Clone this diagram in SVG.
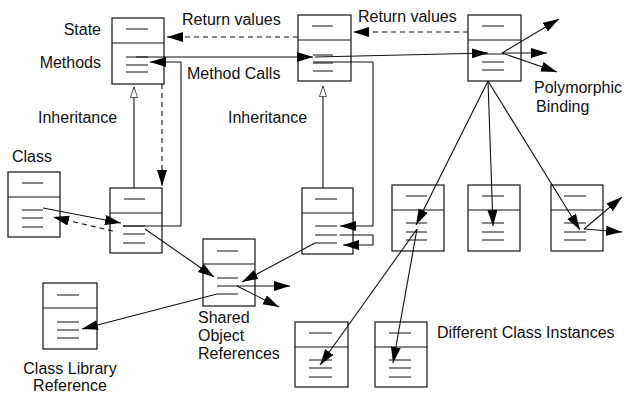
<svg xmlns="http://www.w3.org/2000/svg" width="624" height="394" viewBox="0 0 624 394">
<style>
.box{fill:#fff;stroke:#111;stroke-width:1.2}
.ln{stroke:#111;stroke-width:1;fill:none}
.c{stroke:#111;stroke-width:1.1;fill:none;marker-end:url(#ah)}
.d{stroke:#111;stroke-width:1.1;fill:none;stroke-dasharray:5 4;marker-end:url(#ah)}
.i{stroke:#111;stroke-width:1.1;fill:none;marker-end:url(#tri)}
text{font-family:"Liberation Sans",Arial,Helvetica,sans-serif;font-size:16px;fill:#111}
</style>
<defs>
<marker id="ah" markerUnits="userSpaceOnUse" markerWidth="17" markerHeight="11" refX="16" refY="5" orient="auto" viewBox="0 0 17 11">
<path d="M0,0 L16,5 L0,10 z" fill="#000"/>
</marker>
<marker id="tri" markerUnits="userSpaceOnUse" markerWidth="12" markerHeight="18" refX="15" refY="5" orient="auto" viewBox="-1 -1 17 12">
<path d="M0,0 L15,5 L0,10 z" fill="#fff" stroke="#111" stroke-width="1"/>
</marker>
</defs>

<g id="box1">
<rect class="box" x="112" y="18" width="52" height="66"/>
<path class="ln" d="M112,43 H164 M126,29 H148 M126,57 H148 M126,65 H148 M126,72 H148"/>
</g>
<g id="box2">
<rect class="box" x="298" y="15" width="53" height="66"/>
<path class="ln" d="M298,40 H351 M312,26 H333 M313,55 H333 M313,63 H333 M313,71 H333"/>
</g>
<g id="box3">
<rect class="box" x="468" y="15" width="53" height="66"/>
<path class="ln" d="M468,40 H521 M482,26 H504 M482,54 H504 M482,62 H504 M482,70 H504"/>
</g>
<g id="box4">
<rect class="box" x="110" y="188" width="52" height="65"/>
<path class="ln" d="M110,213 H162 M124,199 H145 M123,226 H145 M123,234 H145 M123,243 H145"/>
</g>
<g id="box5">
<rect class="box" x="302" y="188" width="51" height="66"/>
<path class="ln" d="M302,213 H353 M315,199 H337 M315,226 H337 M315,235 H337 M315,243 H337"/>
</g>
<g id="class">
<rect class="box" x="8" y="172" width="52" height="65"/>
<path class="ln" d="M8,197 H60 M22,183 H43 M22,210 H43 M22,218 H43 M22,227 H43"/>
</g>
<g id="shared">
<rect class="box" x="203" y="239" width="52" height="67"/>
<path class="ln" d="M203,264 H255 M217,251 H238 M217,278 H238 M217,286 H238 M217,294 H238"/>
</g>
<g id="box7">
<rect class="box" x="392" y="185" width="52" height="66"/>
<path class="ln" d="M392,210 H444 M406,196 H427 M406,223 H427 M406,232 H427 M406,240 H427"/>
</g>
<g id="box8">
<rect class="box" x="468" y="185" width="52" height="66"/>
<path class="ln" d="M468,210 H520 M482,196 H504 M482,223 H504 M482,232 H504 M482,240 H504"/>
</g>
<g id="box9">
<rect class="box" x="551" y="185" width="52" height="66"/>
<path class="ln" d="M551,210 H603 M564,196 H586 M564,223 H586 M564,232 H586 M564,240 H586"/>
</g>
<g id="box10">
<rect class="box" x="295" y="322" width="53" height="65"/>
<path class="ln" d="M295,347 H348 M309,333 H332 M309,360 H332 M309,368 H332 M309,377 H332"/>
</g>
<g id="box11">
<rect class="box" x="375" y="322" width="52" height="65"/>
<path class="ln" d="M375,347 H427 M389,333 H411 M389,360 H411 M389,368 H411 M389,377 H411"/>
</g>
<g id="classlib">
<rect class="box" x="43" y="283" width="54" height="66"/>
<path class="ln" d="M43,308 H97 M57,295 H79 M57,322 H79 M57,330 H79 M57,338 H79"/>
</g>

<g id="connectors">
<path class="c" d="M136,57 H313"/>
<path class="c" d="M315,57 L488,53"/>
<path class="c" d="M123,226 H181 V62 H150"/>
<path class="d" d="M298,37 H167"/>
<path class="d" d="M468,32 H353"/>
<path class="i" d="M134,188 V87"/>
<path class="i" d="M323,188 V86"/>
<path class="d" d="M162,84 V186"/>
<path class="c" d="M43,208 L121,223"/>
<path class="d" d="M113,231 L53,217"/>
<path class="c" d="M145,229 L214,277"/>
<path class="c" d="M313,62 H373 V226 H340"/>
<path class="c" d="M340,235 H373 V245 H343"/>
<path class="c" d="M315,243 L242,282"/>
<path class="c" d="M237,286 H290"/>
<path class="c" d="M237,286 L279,307"/>
<path class="c" d="M217,294 L82,329"/>
<path class="c" d="M488,81 L416,225"/>
<path class="c" d="M488,81 L493,226"/>
<path class="c" d="M488,81 L580,230"/>
<path class="c" d="M502,53 L559,19"/>
<path class="c" d="M502,53 H547"/>
<path class="c" d="M502,53 L557,72"/>
<path class="c" d="M417,229 L320,365"/>
<path class="c" d="M417,229 L393,363"/>
<path class="c" d="M584,229 L622,197"/>
<path class="c" d="M584,229 L622,232"/>
</g>

<g id="labels">
<text x="101" y="35" text-anchor="end">State</text>
<text x="101" y="68" text-anchor="end">Methods</text>
<text x="38" y="123">Inheritance</text>
<text x="182" y="25">Return values</text>
<text x="187" y="79">Method Calls</text>
<text x="358" y="22">Return values</text>
<text x="534" y="93">Polymorphic</text>
<text x="536" y="112">Binding</text>
<text x="228" y="123">Inheritance</text>
<text x="12" y="162">Class</text>
<text x="198" y="323">Shared</text>
<text x="198" y="341">Object</text>
<text x="198" y="359">References</text>
<text x="70" y="374" text-anchor="middle">Class Library</text>
<text x="70" y="391" text-anchor="middle">Reference</text>
<text x="437" y="338">Different Class Instances</text>
</g>
</svg>
